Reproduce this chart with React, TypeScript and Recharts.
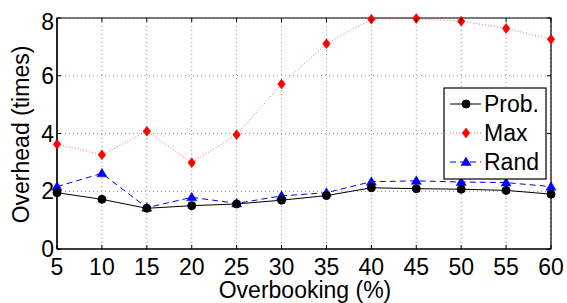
import React from 'react';
import { LineChart, Line, XAxis, YAxis, CartesianGrid, ReferenceArea, Label } from 'recharts';

const overbooking = [5, 10, 15, 20, 25, 30, 35, 40, 45, 50, 55, 60];
const probValues = [1.95, 1.72, 1.41, 1.5, 1.56, 1.69, 1.85, 2.12, 2.09, 2.07, 2.03, 1.9];
const maxValues = [3.63, 3.26, 4.08, 2.99, 3.96, 5.71, 7.11, 7.96, 7.98, 7.89, 7.64, 7.26];
const randValues = [2.16, 2.62, 1.43, 1.79, 1.58, 1.84, 1.95, 2.33, 2.36, 2.32, 2.3, 2.16];
const xTicks = [5, 10, 15, 20, 25, 30, 35, 40, 45, 50, 55, 60];
const yTicks = [0, 2, 4, 6, 8];
const seriesNames = ['Prob.', 'Max', 'Rand'];
const xLabel = 'Overbooking (%)';
const yLabel = 'Overhead (times)';

const data = overbooking.map((x, i) => ({
  x,
  prob: probValues[i],
  max: maxValues[i],
  rand: randValues[i],
}));

const W = 567;
const H = 303;
const ML = 57;
const MT = 18;
const MR = 16;
const XH = 54;
const PW = W - ML - MR;
const PH = H - MT - XH;
const FONT = "'Liberation Sans', Arial, Helvetica, sans-serif";
const FS = 23;

const Circle = (props: any) => {
  const { cx, cy } = props;
  if (cx == null || cy == null) return null;
  return <circle cx={cx} cy={cy} r={4} fill="#000" stroke="#000" />;
};
const Diamond = (props: any) => {
  const { cx, cy } = props;
  if (cx == null || cy == null) return null;
  return (
    <polygon
      points={`${cx},${cy - 5} ${cx + 3.8},${cy} ${cx},${cy + 5} ${cx - 3.8},${cy}`}
      fill="#ff0000"
      stroke="#ff0000"
      strokeWidth={0.5}
    />
  );
};
const Triangle = (props: any) => {
  const { cx, cy } = props;
  if (cx == null || cy == null) return null;
  return (
    <polygon
      points={`${cx},${cy - 5} ${cx + 5},${cy + 3.5} ${cx - 5},${cy + 3.5}`}
      fill="#0000ff"
      stroke="#0000ff"
      strokeWidth={0.5}
    />
  );
};

const XTick = (props: any) => {
  const { x, y, payload } = props;
  return (
    <g>
      <line x1={x} x2={x} y1={y} y2={y - 4} stroke="#000" />
      <line x1={x} x2={x} y1={y - PH} y2={y - PH + 4} stroke="#000" />
      <text x={x} y={y + 26} textAnchor="middle" fontSize={FS} fontFamily={FONT} fill="#000">
        {payload.value}
      </text>
    </g>
  );
};

const YTick = (props: any) => {
  const { x, y, payload } = props;
  const ty = Math.max(y, 22);
  return (
    <g>
      <line x1={x} x2={x + 4} y1={y} y2={y} stroke="#000" />
      <line x1={x + PW} x2={x + PW - 4} y1={y} y2={y} stroke="#000" />
      <text x={x - 3} y={ty + 8} textAnchor="end" fontSize={FS} fontFamily={FONT} fill="#000">
        {payload.value}
      </text>
    </g>
  );
};

const LegendBox = () => {
  const lx = 444;
  const ly = 88;
  const lw = 102;
  const lh = 91;
  const rows = [
    { name: seriesNames[0], color: '#000', dash: undefined as string | undefined, marker: 'circle' },
    { name: seriesNames[1], color: '#ff0000', dash: '1 2', marker: 'diamond' },
    { name: seriesNames[2], color: '#0000ff', dash: '6 4', marker: 'triangle' },
  ];
  return (
    <svg width={W} height={H} style={{ position: 'absolute', left: 0, top: 0, pointerEvents: 'none' }}>
      <rect x={lx} y={ly} width={lw} height={lh} fill="#fff" stroke="#000" strokeWidth={1.2} />
      {rows.map((r, i) => {
        const cy = 104 + i * 29;
        const mx = 466;
        return (
          <g key={r.name}>
            <line x1={450} x2={481} y1={cy} y2={cy} stroke={r.color} strokeWidth={1} strokeDasharray={r.dash} strokeOpacity={r.marker === 'diamond' ? 0.6 : 1} />
            {r.marker === 'circle' && <Circle cx={mx} cy={cy} />}
            {r.marker === 'diamond' && <Diamond cx={mx} cy={cy} />}
            {r.marker === 'triangle' && <Triangle cx={mx} cy={cy} />}
            <text x={484} y={cy + 8} fontSize={FS} fontFamily={FONT} fill="#000">
              {r.name}
            </text>
          </g>
        );
      })}
    </svg>
  );
};

export default function App() {
  return (
    <div style={{ position: 'absolute', left: 0, top: 0, width: W, height: H, background: '#fff' }}>
      <LineChart width={W} height={H} data={data} margin={{ top: MT, right: MR, left: 0, bottom: 0 }}>
        <CartesianGrid stroke="#777" strokeDasharray="1 3" strokeWidth={0.8} vertical horizontal />
        <XAxis
          dataKey="x"
          type="number"
          domain={[5, 60]}
          ticks={xTicks}
          interval={0}
          height={XH}
          tickSize={0}
          tickMargin={0}
          tickLine={false}
          tick={<XTick />}
          axisLine={{ stroke: '#000', strokeWidth: 1.2 }}
        >
          <Label
            content={(p: any) => {
              const vb = p.viewBox;
              return (
                <text x={vb.x + vb.width / 2 + 1} y={vb.y + 49} textAnchor="middle" fontSize={FS} fontFamily={FONT} fill="#000">
                  {xLabel}
                </text>
              );
            }}
          />
        </XAxis>
        <YAxis
          type="number"
          domain={[0, 8]}
          ticks={yTicks}
          interval={0}
          width={ML}
          tickSize={0}
          tickMargin={0}
          tickLine={false}
          tick={<YTick />}
          axisLine={{ stroke: '#000', strokeWidth: 1.2 }}
        >
          <Label
            content={(p: any) => {
              const vb = p.viewBox;
              const cx = 29;
              const cy = vb.y + vb.height / 2 + 1;
              return (
                <text
                  x={cx}
                  y={cy}
                  transform={`rotate(-90 ${cx} ${cy})`}
                  textAnchor="middle"
                  fontSize={FS}
                  fontFamily={FONT}
                  fill="#000"
                >
                  {yLabel}
                </text>
              );
            }}
          />
        </YAxis>
        <ReferenceArea x1={5} x2={60} y1={0} y2={8} fill="none" stroke="#000" strokeWidth={1.2} ifOverflow="visible" />
        <Line
          dataKey="max"
          name={seriesNames[1]}
          stroke="#ff0000"
          strokeOpacity={0.6}
          strokeWidth={1}
          strokeDasharray="1 2"
          dot={<Diamond />}
          activeDot={false}
          isAnimationActive={false}
        />
        <Line
          dataKey="rand"
          name={seriesNames[2]}
          stroke="#0000ff"
          strokeWidth={1}
          strokeDasharray="6 4"
          dot={<Triangle />}
          activeDot={false}
          isAnimationActive={false}
        />
        <Line
          dataKey="prob"
          name={seriesNames[0]}
          stroke="#000"
          strokeWidth={1}
          dot={<Circle />}
          activeDot={false}
          isAnimationActive={false}
        />
      </LineChart>
      <LegendBox />
    </div>
  );
}
